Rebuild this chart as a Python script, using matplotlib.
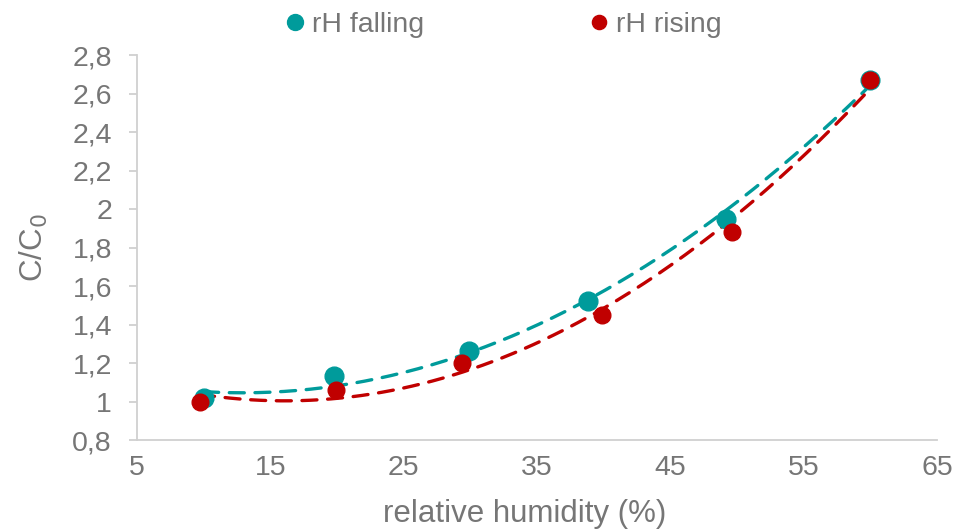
import numpy as np
import matplotlib
matplotlib.use("Agg")
import matplotlib.pyplot as plt
from matplotlib.ticker import FuncFormatter, FixedLocator, MultipleLocator

plt.rcParams['font.family'] = ['Liberation Sans', 'DejaVu Sans']

# Measured concentration ratio vs relative humidity
rh_falling = [10.0, 19.8, 29.9, 38.8, 49.2, 60.0]
c_falling = [1.02, 1.13, 1.26, 1.52, 1.95, 2.67]
rh_rising = [9.7, 19.9, 29.4, 39.9, 49.6, 60.0]
c_rising = [1.00, 1.06, 1.20, 1.45, 1.88, 2.67]
x_ticks = [5, 15, 25, 35, 45, 55, 65]

teal = '#009B9B'
red = '#C00000'
grey = '#767676'
axis_grey = '#d0d0d0'

fig = plt.figure(figsize=(9.62, 5.29), dpi=100)
ax = fig.add_axes([0.1424, 0.1682, 0.8316, 0.7278])

# Second-order polynomial trendlines
for xs, ys, col in [(rh_falling, c_falling, teal), (rh_rising, c_rising, red)]:
    coef = np.polyfit(xs, ys, 2)
    xf = np.linspace(min(xs), max(xs), 200)
    ax.plot(xf, np.polyval(coef, xf), color=col, lw=2.4, dashes=(4.5, 3.2),
            dash_capstyle='round', zorder=2)

h_fall, = ax.plot(rh_falling, c_falling, 'o', color=teal, ms=13.5, zorder=3,
                  label='rH falling')
h_rise, = ax.plot(rh_rising, c_rising, 'o', color=red, ms=12, zorder=4,
                  label='rH rising')

ax.set_xlim(x_ticks[0], x_ticks[-1])
ax.set_ylim(0.8, 2.8)
ax.xaxis.set_major_locator(FixedLocator(x_ticks))
ax.yaxis.set_major_locator(MultipleLocator(0.2))


def comma(v, pos):
    s = f"{v:.1f}".rstrip('0').rstrip('.')
    return s.replace('.', ',')


ax.yaxis.set_major_formatter(FuncFormatter(comma))
ax.xaxis.set_major_formatter(FuncFormatter(lambda v, p: f"{v:.0f}"))

for side in ['top', 'right']:
    ax.spines[side].set_visible(False)
for side in ['left', 'bottom']:
    ax.spines[side].set_color(axis_grey)
    ax.spines[side].set_linewidth(1.3)

ax.tick_params(axis='y', colors=axis_grey, labelcolor=grey, labelsize=20.5,
               length=6, width=1.3, direction='out', pad=12)
ax.tick_params(axis='x', length=0, labelcolor=grey, labelsize=20.5, pad=11)

ax.set_xlabel('relative humidity (%)', color=grey, fontsize=22.5)
ax.set_ylabel('C/C$_0$', color=grey, fontsize=22.5)
ax.xaxis.set_label_coords(0.484, -0.153)
ax.yaxis.set_label_coords(-0.109, 0.5)

leg = fig.legend(handles=[h_fall, h_rise], loc='center',
                 bbox_to_anchor=(0.524, 0.953), ncol=2, frameon=False,
                 fontsize=20.5, markerscale=0.85, handlelength=0.6,
                 handletextpad=0.3, columnspacing=5.85)
for t in leg.get_texts():
    t.set_color(grey)

fig.savefig('out.png', dpi=100)
